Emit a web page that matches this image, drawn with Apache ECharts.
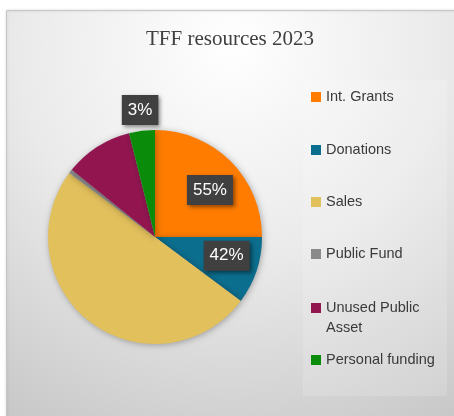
<!DOCTYPE html>
<html>
<head>
<meta charset="utf-8">
<script src="https://cdn.jsdelivr.net/npm/echarts@6/dist/echarts.min.js"></script>
<style>
  html, body { margin: 0; padding: 0; background: #ffffff; }
  #chart { width: 454px; height: 416px; }
</style>
</head>
<body>
<div id="chart"></div>
<script>
// Resource categories and their shares of the pie
const categories = ['Int. Grants', 'Donations', 'Sales', 'Public Fund', 'Unused Public Asset', 'Personal funding'];
const shares = [25, 10.2, 50, 0.6, 10.3, 3.9];
// Data-label texts shown on some slices (empty = no label)
const sliceLabels = ['55%', '42%', '', '', '', '3%'];
// Legend lines: a category name may wrap onto a second line
const legendLines = [['Int. Grants'], ['Donations'], ['Sales'], ['Public Fund'], ['Unused Public', 'Asset'], ['Personal funding']];
// Slice colours
const sliceColors = ['#FF7C00', '#0B6E8E', '#E2C05C', '#8A8A8A', '#931550', '#0A8C0A'];

// Label nudges away from the default inside position
const labelNudge = [[15, -7], [18, 1], [0, 0], [0, 0], [0, 0], [-8, -71]];
// Legend rows (vertical centre of the first text line)
const legendRows = [97, 150, 202, 254, 308, 360];
const legendLineHeight = 20;
const legendFont = {
  fontFamily: 'Liberation Sans, Arial, sans-serif',
  fontSize: 14.5,
  color: '#3a3a3a'
};

const chart = echarts.init(document.getElementById('chart'), null, { renderer: 'canvas' });

const pieData = categories.map((name, i) => ({
  name: name,
  value: shares[i],
  itemStyle: { color: sliceColors[i] },
  label: { show: sliceLabels[i] !== '' }
}));

// One legend block per category so each row can be placed on its own line
const legends = categories.map((name, i) => ({
  data: [name],
  orient: 'vertical',
  left: 311,
  top: legendRows[i] - 9,
  padding: 0,
  icon: 'rect',
  itemWidth: 10,
  itemHeight: 10,
  selectedMode: false,
  formatter: () => legendLines[i][0],
  textStyle: Object.assign({ lineHeight: 18 }, legendFont)
}));

// Continuation lines of wrapped legend names
const legendExtraLines = [];
legendLines.forEach((lines, i) => {
  lines.slice(1).forEach((txt, k) => {
    legendExtraLines.push({
      type: 'text',
      silent: true,
      x: 326,
      y: legendRows[i] + legendLineHeight * (k + 1),
      style: {
        text: txt, verticalAlign: 'middle', align: 'left',
        fill: legendFont.color,
        font: legendFont.fontSize + 'px ' + legendFont.fontFamily
      }
    });
  });
});

chart.setOption({
  animation: false,
  backgroundColor: '#ffffff',
  graphic: [
    {
      type: 'rect',
      z: -10,
      shape: { x: 6.5, y: 10.5, width: 470, height: 430 },
      style: {
        fill: {
          type: 'radial', x: 0.48, y: 0.08, r: 1,
          colorStops: [
            { offset: 0, color: '#ffffff' },
            { offset: 0.5, color: '#eaeaea' },
            { offset: 1, color: '#c8c8c8' }
          ]
        },
        stroke: '#c6c6c6',
        lineWidth: 1,
        shadowBlur: 3,
        shadowColor: 'rgba(0,0,0,0.15)'
      },
      silent: true
    },
    {
      type: 'rect',
      z: -9,
      shape: { x: 303, y: 80, width: 144, height: 316 },
      style: { fill: 'rgba(255,255,255,0.15)' },
      silent: true
    }
  ].concat(legendExtraLines),
  title: {
    text: 'TFF resources 2023',
    left: 146,
    top: 29,
    padding: 0,
    textStyle: {
      fontFamily: 'Liberation Serif, Times New Roman, serif',
      fontWeight: 'normal',
      fontSize: 21,
      color: '#404040'
    }
  },
  legend: legends,
  series: [{
    type: 'pie',
    center: [155, 237],
    radius: 107,
    startAngle: 90,
    clockwise: true,
    avoidLabelOverlap: false,
    silent: true,
    data: pieData,
    itemStyle: {
      borderWidth: 0,
      shadowBlur: 6,
      shadowColor: 'rgba(0,0,0,0.3)',
      shadowOffsetX: 1,
      shadowOffsetY: 1
    },
    label: {
      position: 'inside',
      formatter: (p) => sliceLabels[p.dataIndex],
      fontFamily: 'Liberation Sans, Arial, sans-serif',
      fontSize: 17,
      color: '#ffffff',
      backgroundColor: '#404040',
      padding: [7, 6, 6, 6],
      shadowBlur: 4,
      shadowColor: 'rgba(0,0,0,0.45)',
      shadowOffsetX: 2,
      shadowOffsetY: 2
    },
    labelLine: { show: false },
    labelLayout: (params) => ({
      dx: labelNudge[params.dataIndex][0],
      dy: labelNudge[params.dataIndex][1]
    })
  }]
});
</script>
</body>
</html>
